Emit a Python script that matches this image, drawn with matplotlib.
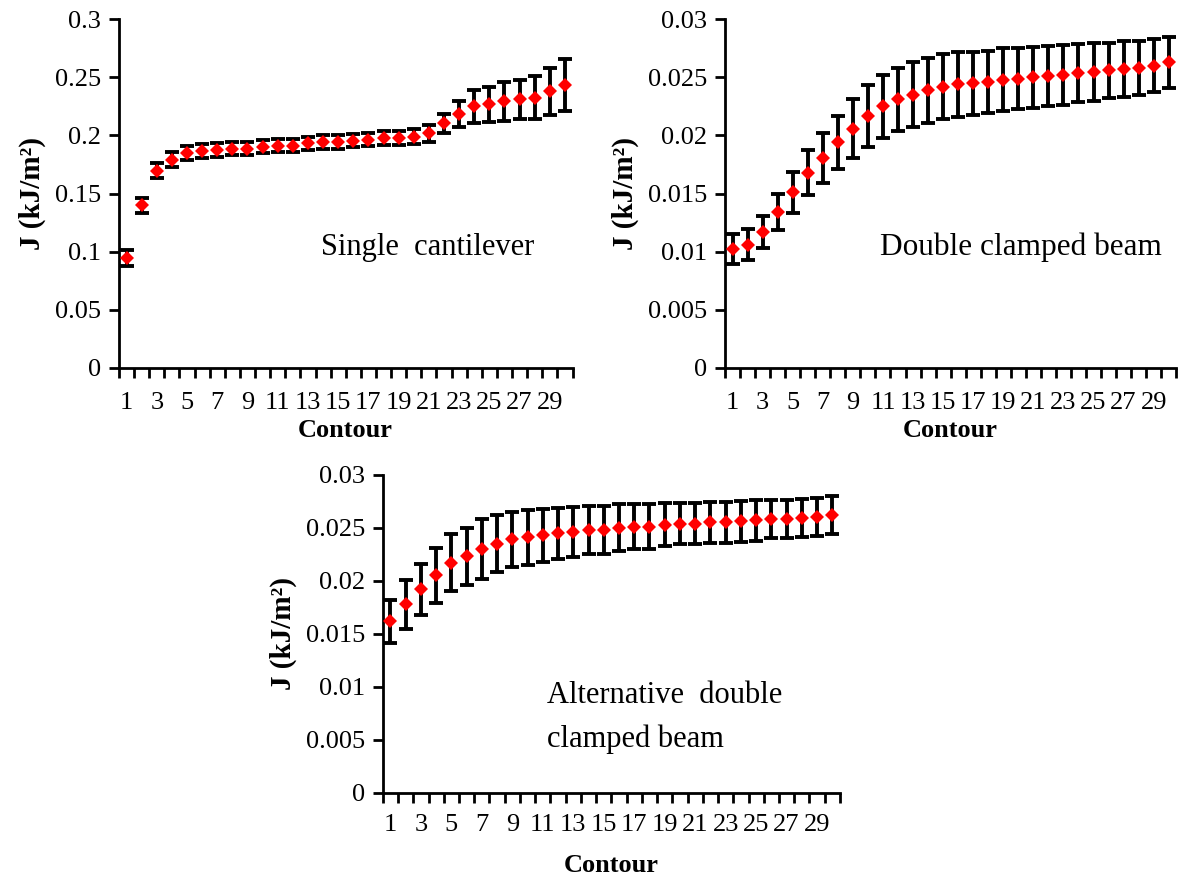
import matplotlib
matplotlib.use("Agg")
import matplotlib.pyplot as plt
from matplotlib.ticker import FixedLocator, FuncFormatter

plt.rcParams['font.family'] = ['Liberation Serif', 'DejaVu Serif']

contour = list(range(1, 31))

# Single cantilever
single_j = [0.0946, 0.140, 0.1696, 0.179, 0.1846, 0.1869, 0.1875, 0.1887, 0.1887, 0.1904,
            0.1913, 0.1913, 0.1933, 0.1944, 0.1944, 0.1956, 0.1965, 0.1979, 0.1979, 0.199,
            0.2019, 0.2106, 0.2187, 0.225, 0.2267, 0.2293, 0.231, 0.2325, 0.2382, 0.2432]
single_err = [0.007, 0.0066, 0.0065, 0.0065, 0.006, 0.006, 0.0058, 0.0058, 0.0058, 0.0058,
              0.0058, 0.0058, 0.0058, 0.0058, 0.0058, 0.0058, 0.0058, 0.006, 0.006, 0.0065,
              0.0075, 0.0082, 0.0112, 0.0144, 0.0154, 0.0166, 0.0169, 0.0183, 0.0202, 0.0225]

# Double clamped beam
double_j = [0.0102, 0.0106, 0.0117, 0.0134, 0.0151, 0.0168, 0.0181, 0.0194, 0.0206, 0.0217,
            0.0225, 0.0231, 0.0235, 0.0239, 0.0242, 0.0244, 0.0245, 0.0246, 0.0248, 0.0249,
            0.0250, 0.0251, 0.0252, 0.0254, 0.0255, 0.0256, 0.0257, 0.0258, 0.0260, 0.0263]
double_err = [0.0013, 0.00134, 0.00136, 0.00157, 0.00176, 0.00196, 0.00215, 0.00229, 0.0025, 0.00265,
              0.00272, 0.00275, 0.0028, 0.0028, 0.0028, 0.0028, 0.0027, 0.0027, 0.0027, 0.00265,
              0.00263, 0.0026, 0.0026, 0.0025, 0.0025, 0.0024, 0.0024, 0.0023, 0.0023, 0.0022]

# Alternative double clamped beam
alt_j = [0.0162, 0.0178, 0.0192, 0.0205, 0.0217, 0.0223, 0.0230, 0.0235, 0.0239, 0.0241,
         0.0243, 0.0245, 0.0246, 0.0248, 0.0248, 0.0250, 0.0251, 0.0251, 0.0253, 0.0254,
         0.0254, 0.0255, 0.0255, 0.0256, 0.0257, 0.0258, 0.0258, 0.0259, 0.0260, 0.0262]
alt_err = [0.00203, 0.00231, 0.0024, 0.00258, 0.00267, 0.00272, 0.00281, 0.0027, 0.0026, 0.00258,
           0.0025, 0.0024, 0.0024, 0.0023, 0.0023, 0.0022, 0.0021, 0.0021, 0.002, 0.0019,
           0.0019, 0.0019, 0.0019, 0.0019, 0.0019, 0.0018, 0.0018, 0.0018, 0.0018, 0.0018]

x_labels = [str(c) for c in contour[::2]]

fig = plt.figure(figsize=(11.78, 8.76), dpi=100)
ax1 = fig.add_axes([0.101, 0.580, 0.385, 0.398])
ax2 = fig.add_axes([0.6155, 0.580, 0.383, 0.398])
ax3 = fig.add_axes([0.325, 0.095, 0.388, 0.363])


def style_axis(ax, ymax, ystep, xpad, xlabelpad):
    for s in ['top', 'right']:
        ax.spines[s].set_visible(False)
    for s in ['left', 'bottom']:
        ax.spines[s].set_linewidth(2)
    ax.set_xlim(0.5, 30.5)
    ax.set_ylim(0, ymax)
    ax.xaxis.set_major_locator(FixedLocator(contour[::2]))
    ax.set_xticklabels(x_labels)
    ax.xaxis.set_minor_locator(FixedLocator([c - 0.5 for c in range(1, 32)]))
    ax.tick_params(axis='x', which='major', length=0, pad=xpad, labelsize=19)
    ax.tick_params(axis='x', which='minor', length=7, width=2, direction='out')
    ax.yaxis.set_major_locator(FixedLocator([i * ystep for i in range(7)]))
    ax.yaxis.set_major_formatter(FuncFormatter(lambda v, p: '%g' % round(v, 4)))
    ax.tick_params(axis='y', length=7, width=2, direction='out', labelsize=19, pad=6)
    ax.set_xlabel('Contour', fontsize=19, fontweight='bold', labelpad=xlabelpad)
    ax.set_ylabel('J (kJ/m²)', fontsize=21, fontweight='bold', labelpad=6)


def draw_series(ax, y, err):
    ax.errorbar(contour, y, yerr=err, fmt='none', ecolor='black', elinewidth=2.8,
                capsize=5, capthick=2.8, zorder=2)
    ax.plot(contour, y, 'D', color='red', markersize=7.5, markeredgewidth=0, zorder=3)


draw_series(ax1, single_j, single_err)
style_axis(ax1, 0.3, 0.05, 17, 4)
ax1.text(0.68, 0.345, 'Single  cantilever', transform=ax1.transAxes, fontsize=22,
         ha='center', va='center')

draw_series(ax2, double_j, double_err)
style_axis(ax2, 0.03, 0.005, 17, 4)
ax2.text(0.655, 0.345, 'Double clamped beam', transform=ax2.transAxes, fontsize=22.5,
         ha='center', va='center')

draw_series(ax3, alt_j, alt_err)
style_axis(ax3, 0.03, 0.005, 15, 13)
ax3.text(0.36, 0.236, 'Alternative  double\nclamped beam', transform=ax3.transAxes,
         fontsize=22, ha='left', va='center', linespacing=1.65)

fig.savefig('out.png', dpi=100)
